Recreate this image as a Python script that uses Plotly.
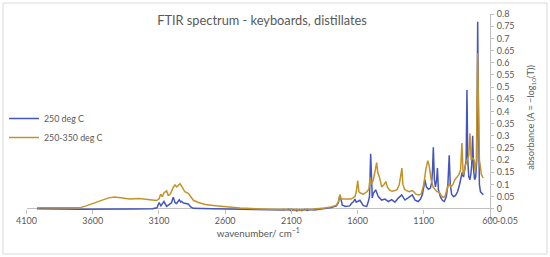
import plotly.graph_objects as go

# ---- data ----
wn_blue = [4020, 3700, 3300, 3150, 3115, 3098, 3085, 3075, 3062, 3042, 3020, 3005, 2992, 2978,
           2966, 2947, 2935, 2929, 2915, 2904, 2879, 2860, 2841, 2700, 2500, 2300, 2200, 2150,
           2120, 2100, 2080, 2060, 2040, 2020, 2000, 1980, 1960, 1930, 1900, 1850, 1800, 1760,
           1745, 1733, 1725, 1715, 1690, 1660, 1645, 1630, 1620, 1610, 1599, 1582, 1557, 1531,
           1519, 1510, 1501, 1493, 1489, 1481, 1463, 1444, 1418, 1393, 1368, 1342, 1318, 1293,
           1267, 1242, 1217, 1187, 1166, 1142, 1125, 1110, 1100, 1092, 1080, 1065, 1050, 1040,
           1034, 1028, 1020, 1012, 1003, 997, 990, 975, 960, 945, 930, 918, 908, 900, 890, 875,
           860, 845, 830, 820, 810, 800, 790, 780, 774, 768, 760, 752, 745, 738, 731, 724, 716,
           708, 700, 693, 686, 680, 672, 660, 650]
a_blue = [0.0, -0.002, -0.001, 0.0, 0.004, 0.026, 0.012, 0.02, 0.03, 0.01, 0.018, 0.025, 0.048, 0.025,
          0.022, 0.037, 0.028, 0.03, 0.024, 0.023, 0.02, 0.008, 0.002, 0.0, -0.001, -0.003, -0.004, -0.005,
          -0.002, -0.008, -0.003, -0.009, -0.004, -0.008, -0.002, -0.007, -0.003, -0.005, -0.003, 0.0, 0.005, 0.012,
          0.025, 0.057, 0.03, 0.015, 0.01, 0.012, 0.023, 0.03, 0.04, 0.028, 0.03, 0.035, 0.013, 0.01,
          0.03, 0.05, 0.226, 0.06, 0.045, 0.064, 0.078, 0.05, 0.036, 0.04, 0.03, 0.038, 0.027, 0.044,
          0.057, 0.036, 0.047, 0.057, 0.036, 0.03, 0.04, 0.06, 0.09, 0.12, 0.09, 0.08, 0.085, 0.11,
          0.16, 0.253, 0.12, 0.09, 0.12, 0.167, 0.08, 0.05, 0.035, 0.03, 0.05, 0.1, 0.22, 0.1, 0.06, 0.05,
          0.055, 0.07, 0.1, 0.13, 0.15, 0.13, 0.16, 0.2, 0.488, 0.2, 0.13, 0.12, 0.14, 0.18, 0.30, 0.16, 0.12,
          0.13, 0.2, 0.768, 0.3, 0.1, 0.07, 0.065, 0.058]

wn_gold = [4020, 3850, 3700, 3650, 3600, 3550, 3480, 3433, 3380, 3320, 3250, 3194, 3150, 3118,
           3100, 3087, 3075, 3062, 3042, 3030, 3015, 2990, 2979, 2965, 2941, 2925, 2905, 2878,
           2860, 2840, 2803, 2750, 2689, 2600, 2488, 2400, 2300, 2200, 2150, 2120, 2100, 2080,
           2060, 2040, 2020, 2000, 1980, 1960, 1930, 1900, 1850, 1800, 1760, 1745, 1733, 1725,
           1700, 1650, 1620, 1610, 1599, 1590, 1575, 1555, 1530, 1515, 1505, 1495, 1480, 1470,
           1456, 1448, 1435, 1418, 1400, 1387, 1375, 1360, 1340, 1318, 1300, 1285, 1272, 1265,
           1258, 1245, 1230, 1210, 1190, 1175, 1160, 1140, 1120, 1100, 1085, 1070, 1060, 1045,
           1030, 1015, 1000, 985, 970, 955, 940, 925, 908, 895, 880, 865, 850, 835, 822, 812,
           803, 795, 785, 770, 760, 751, 742, 735, 720, 712, 703, 693, 686, 680, 672, 665, 655, 650]
a_gold = [0.004, 0.004, 0.004, 0.012, 0.022, 0.034, 0.045, 0.048, 0.044, 0.04, 0.042, 0.04, 0.036, 0.034,
          0.04, 0.06, 0.05, 0.065, 0.074, 0.055, 0.06, 0.09, 0.098, 0.09, 0.103, 0.09, 0.07, 0.064,
          0.05, 0.035, 0.026, 0.018, 0.014, 0.008, 0.003, 0.001, -0.002, -0.003, -0.002, -0.006, 0.001, -0.007,
          -0.002, -0.008, -0.003, -0.006, 0.0, -0.005, -0.001, 0.0, 0.003, 0.008, 0.015, 0.03, 0.058, 0.04,
          0.04, 0.04, 0.05, 0.07, 0.116, 0.07, 0.064, 0.06, 0.07, 0.08, 0.13, 0.1, 0.12, 0.15,
          0.19, 0.15, 0.13, 0.09, 0.1, 0.112, 0.09, 0.078, 0.072, 0.075, 0.08, 0.1, 0.14, 0.167,
          0.1, 0.08, 0.075, 0.07, 0.075, 0.07, 0.06, 0.057, 0.06, 0.1, 0.16, 0.198, 0.18, 0.12,
          0.09, 0.08, 0.07, 0.07, 0.055, 0.047, 0.05, 0.08, 0.105, 0.09, 0.1, 0.12, 0.13, 0.14, 0.16, 0.27,
          0.14, 0.15, 0.18, 0.2, 0.22, 0.31, 0.2, 0.21, 0.2, 0.15, 0.2, 0.64, 0.3, 0.2, 0.17, 0.14, 0.13, 0.127]

x_ticks = [4100, 3600, 3100, 2600, 2100, 1600, 1100, 600]
y_tickvals = [-0.05, 0, 0.05, 0.1, 0.15, 0.2, 0.25, 0.3, 0.35, 0.4, 0.45, 0.5, 0.55, 0.6, 0.65, 0.7, 0.75, 0.8]
y_ticktext = ["-0.05", "0", "0.05", "0.1", "0.15", "0.2", "0.25", "0.3", "0.35", "0.4", "0.45",
              "0.5", "0.55", "0.6", "0.65", "0.7", "0.75", "0.8"]

W, H = 550, 257
px_left, px_right = 26.5, 490
py_top, py_bot = 14, 221
FONT = "Lato"
GRAY = "#595959"
AX = "#BFBFBF"

fig = go.Figure()
fig.add_trace(go.Scatter(x=wn_blue, y=a_blue, mode="lines", name="250 deg C",
                         line=dict(color="#4455BD", width=1.5)))
fig.add_trace(go.Scatter(x=wn_gold, y=a_gold, mode="lines", name="250-350 deg C",
                         line=dict(color="#C39329", width=1.5)))
# empty trace for tick-mark axis at y=0
fig.add_trace(go.Scatter(x=[], y=[], xaxis="x2", showlegend=False, hoverinfo="skip"))

ydom = [(H - py_bot) / H, (H - py_top) / H]
yrange = [-0.05, 0.8]
pos0 = ydom[0] + (ydom[1] - ydom[0]) * (0 - yrange[0]) / (yrange[1] - yrange[0])

fig.update_layout(
    width=W, height=H,
    margin=dict(l=0, r=0, t=0, b=0),
    paper_bgcolor="white", plot_bgcolor="white",
    font=dict(family=FONT, color=GRAY, size=9),
    title=dict(text="FTIR spectrum - keyboards, distillates", x=262 / W, xanchor="center",
               y=1 - 21 / H, yanchor="middle", font=dict(size=12.8, color=GRAY, family=FONT)),
    xaxis=dict(domain=[px_left / W, px_right / W], range=[4100, 600], tickvals=x_ticks,
               showgrid=False, zeroline=False, showline=False, ticks="",
               ticklabelstandoff=-7, automargin=False,
               tickfont=dict(size=9, color=GRAY),
               title=dict(text="wavenumber/ cm<sup>−1</sup>", font=dict(size=9.8, color=GRAY), standoff=2)),
    xaxis2=dict(domain=[px_left / W, px_right / W], matches="x", overlaying="x", anchor="free",
                position=pos0, side="bottom", tickvals=x_ticks, showticklabels=False,
                ticks="outside", ticklen=4, tickcolor=AX, showgrid=False, zeroline=False, showline=False),
    yaxis=dict(domain=ydom, range=yrange, side="right", tickvals=y_tickvals, ticktext=y_ticktext,
               showgrid=False, zeroline=True, zerolinecolor=AX, zerolinewidth=1,
               showline=True, linecolor=AX, linewidth=1, ticks="outside", ticklen=3, tickcolor=AX,
               ticklabelstandoff=1,
               automargin=False, tickfont=dict(size=9, color=GRAY),
               title=dict(text="absorbance (A = −log<sub>10</sub>(T))", font=dict(size=9.2, color=GRAY), standoff=10)),
    legend=dict(x=4 / W, y=1 - 104 / H, xanchor="left", yanchor="top", bgcolor="rgba(0,0,0,0)",
                font=dict(size=8.8, color=GRAY, family=FONT), itemwidth=30, tracegroupgap=0),
    showlegend=True,
    shapes=[dict(type="rect", xref="paper", yref="paper", x0=3 / W, x1=547 / W, y0=1 - 254 / H, y1=1 - 3 / H,
                 line=dict(color="#D9D9D9", width=1), fillcolor="rgba(0,0,0,0)", layer="below")],
)

fig.write_html("out.html")
